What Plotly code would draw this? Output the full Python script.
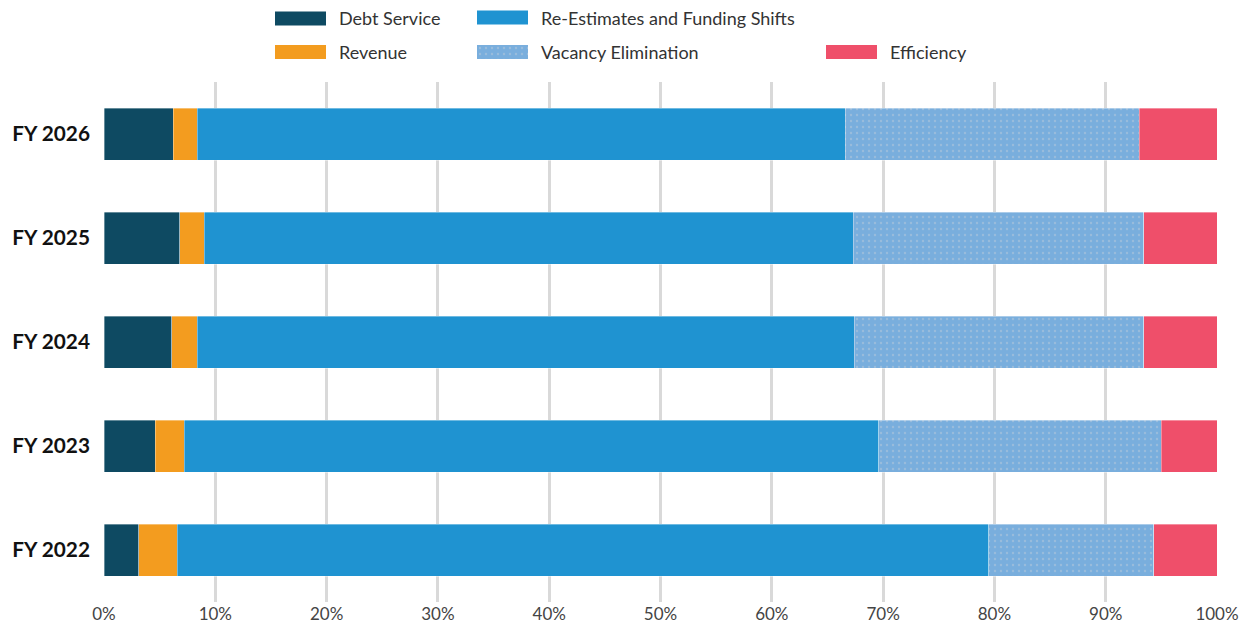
import plotly.graph_objects as go

categories = ["FY 2022", "FY 2023", "FY 2024", "FY 2025", "FY 2026"]
debt_service = [3.1, 4.6, 6.1, 6.8, 6.2]
revenue = [3.5, 2.6, 2.3, 2.2, 2.2]
re_estimates = [72.9, 62.4, 59.0, 58.3, 58.2]
vacancy = [14.8, 25.4, 26.0, 26.1, 26.4]
efficiency = [5.7, 5.0, 6.6, 6.6, 7.0]
tick_vals = [0, 10, 20, 30, 40, 50, 60, 70, 80, 90, 100]
tick_text = [f"{v}%" for v in tick_vals]

series = [
    ("Debt Service", debt_service, "#0e4a62", None),
    ("Revenue", revenue, "#f39c1f", None),
    ("Re-Estimates and Funding Shifts", re_estimates, "#1f93d1", None),
    ("Vacancy Elimination", vacancy, "#79aedd", dict(shape=".", fgcolor="#b8c9da", bgcolor="#79aedd", size=6, solidity=0.12)),
    ("Efficiency", efficiency, "#ef4f6a", None),
]

fig = go.Figure()
for name, vals, color, pat in series:
    marker = dict(color=color, line=dict(color="rgba(255,255,255,0.6)", width=0.6))
    if pat:
        marker["pattern"] = pat
    fig.add_trace(go.Bar(y=categories, x=vals, name=name, orientation="h",
                         marker=marker, showlegend=False, hoverinfo="x+name"))

# page is offset by the default 8px body margin; work in page coordinates
OFF = 8
W, H = 1247 - OFF, 626 - OFF
PLOT_L, PLOT_R, PLOT_T, PLOT_B = 104, 1217, 82, 602  # page coords
L = PLOT_L - OFF
R = W - (PLOT_R - OFF)
B = H - (PLOT_B - OFF)
T = 0
PW = W - L - R
PH = H - T - B
def px(x):
    return (x - OFF - L) / PW
def py(y):
    return (H - B - (y - OFF)) / PH

# Manual legend
legend_items = [
    ("Debt Service", "#0e4a62", 275, 18.5),
    ("Re-Estimates and Funding Shifts", "#1f93d1", 477, 17.5),
    ("Revenue", "#f39c1f", 275, 52),
    ("Vacancy Elimination", "#79aedd", 477, 52),
    ("Efficiency", "#ef4f6a", 826, 52),
]
shapes = []
annotations = []
for name, color, x0, yc in legend_items:
    if name != "Vacancy Elimination":
        shapes.append(dict(type="rect", xref="paper", yref="paper",
                           x0=px(x0), x1=px(x0 + 51), y0=py(yc + 7), y1=py(yc - 7),
                           fillcolor=color, line=dict(width=0), layer="above"))
    annotations.append(dict(xref="paper", yref="paper", x=px(x0 + 62), y=py(yc),
                            text=name, showarrow=False, xanchor="left", yanchor="middle",
                            font=dict(family="Lato", size=18, color="#333333")))

# patterned swatch for Vacancy Elimination via a tiny auxiliary axis
fig.add_trace(go.Bar(x=[1], y=[0], orientation="h", xaxis="x2", yaxis="y2",
                     marker=dict(color="#79aedd", line=dict(width=0),
                                 pattern=dict(shape=".", fgcolor="#b8c9da", bgcolor="#79aedd", size=6, solidity=0.12)),
                     showlegend=False, hoverinfo="skip", width=1))

fig.update_layout(
    width=W, height=H,
    margin=dict(l=L, r=R, t=T, b=B, autoexpand=False),
    paper_bgcolor="white", plot_bgcolor="white",
    barmode="stack", bargap=0.5,
    xaxis=dict(range=[0, 100], tickvals=tick_vals, ticktext=tick_text, automargin=False,
               showgrid=True, gridcolor="#d9d9d9", gridwidth=3, zeroline=False,
               showline=False, ticks="", tickfont=dict(family="Lato", size=17, color="#444444")),
    yaxis=dict(domain=[0, py(PLOT_T)], categoryorder="array", categoryarray=categories, range=[-0.5, 4.5],
               showgrid=False, zeroline=False, ticks="", ticklabelstandoff=13, automargin=False,
               tickfont=dict(family="Lato", size=20.8, color="#111111", weight="bold")),
    xaxis2=dict(domain=[px(477), px(528)], range=[0, 1], visible=False, anchor="y2", fixedrange=True),
    yaxis2=dict(domain=[py(59), py(45)], range=[-0.5, 0.5], visible=False, anchor="x2", fixedrange=True),
    shapes=shapes, annotations=annotations,
    showlegend=False,
)

fig.write_html("out.html")
